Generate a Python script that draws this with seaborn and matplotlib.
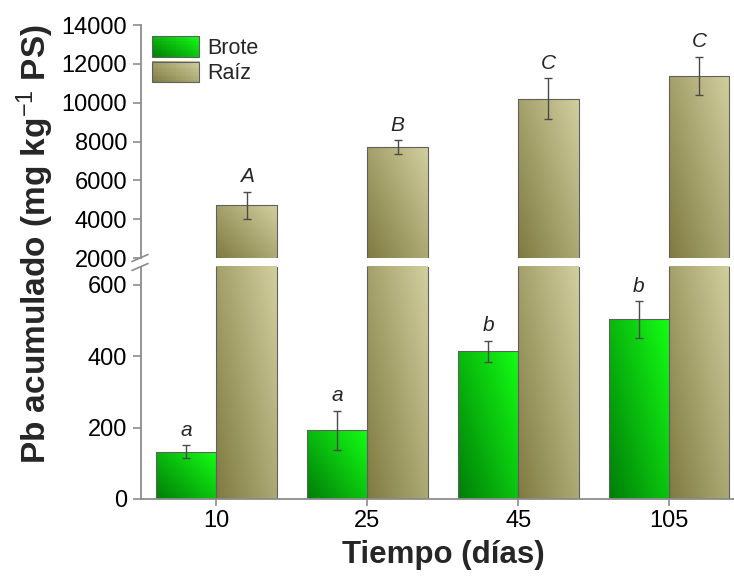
import numpy as np
import pandas as pd
import matplotlib
matplotlib.use("Agg")
import matplotlib.pyplot as plt
import seaborn as sns
from matplotlib.patches import Rectangle
from matplotlib.legend_handler import HandlerBase
from matplotlib.lines import Line2D
from matplotlib.colors import to_rgb

# ---------------- data ----------------
days = ["10", "25", "45", "105"]
series = ["Brote", "Raíz"]
brote = [133, 192, 414, 503]
brote_err = [17, 55, 29, 51]
raiz = [4714, 7720, 10200, 11380]
raiz_err = [690, 345, 1050, 980]
brote_letters = ["a", "a", "b", "b"]
raiz_letters = ["A", "B", "C", "C"]
low_ticks = [0, 200, 400, 600]
high_ticks = [2000, 4000, 6000, 8000, 10000, 12000, 14000]

# ---------------- style ----------------
sns.set_theme(style="white")
plt.rcParams['font.family'] = ['Liberation Sans', 'DejaVu Sans']
plt.rcParams['mathtext.fontset'] = 'custom'
plt.rcParams['mathtext.rm'] = 'Liberation Sans'
plt.rcParams['mathtext.it'] = 'Liberation Sans:italic'
plt.rcParams['mathtext.bf'] = 'Liberation Sans:bold'

grads = {
    "Brote": (np.array(to_rgb("#007d08")), np.array(to_rgb("#14ff14"))),
    "Raíz": (np.array(to_rgb("#7e7a40")), np.array(to_rgb("#d2cf9f"))),
}
spine_col = "#8c8c8c"
edge_col = "#5f5f5f"
err_col = "#4a4a4a"

fig = plt.figure(figsize=(7.34, 5.79), dpi=100)
ax_top = fig.add_axes([0.1921, 0.5544, 0.8079, 0.4024])
ax_bot = fig.add_axes([0.1921, 0.1382, 0.8079, 0.4007])

df = pd.DataFrame({
    "Tiempo": days * 2,
    "Tipo": ["Brote"] * len(days) + ["Raíz"] * len(days),
    "Pb": brote + raiz,
})

XLIM = (-0.5, 3.43)
for ax, ylim in ((ax_top, (2000, 14000)), (ax_bot, (0, 650))):
    sns.barplot(data=df, x="Tiempo", y="Pb", hue="Tipo", order=days,
                hue_order=series, palette=["#00c000", "#aaa770"],
                errorbar=None, width=0.8, ax=ax, legend=False,
                edgecolor=edge_col, linewidth=0.8)
    ax.set_ylim(*ylim)
    ax.set_xlim(*XLIM)


def gradient_fill(ax, patch, dark, light):
    x0, w = patch.get_x(), patch.get_width()
    y0, h = patch.get_y(), patch.get_height()
    ylo, yhi = ax.get_ylim()
    a, b = max(y0, ylo), min(y0 + h, yhi)
    if b <= a:
        return
    n = 80
    U, V = np.meshgrid(np.linspace(0, 1, n), np.linspace(0, 1, n))
    t = np.clip(0.55 * U + 0.45 * V, 0, 1)
    img = dark[None, None, :] + (light - dark)[None, None, :] * t[..., None]
    im = ax.imshow(img, extent=(x0, x0 + w, a, b), origin="lower",
                   aspect="auto", zorder=1, interpolation="bilinear")
    im.set_clip_path(patch)
    patch.set_facecolor("none")
    patch.set_zorder(2)


for ax in (ax_top, ax_bot):
    n = len(days)
    patches = list(ax.patches)
    for k, name in enumerate(series):
        dark, light = grads[name]
        for p in patches[k * n:(k + 1) * n]:
            gradient_fill(ax, p, dark, light)
    ax.set_xlim(*XLIM)

# error bars + letters
for ax in (ax_top, ax_bot):
    patches = list(ax.patches)
    n = len(days)
    for k, (vals, errs) in enumerate(((brote, brote_err), (raiz, raiz_err))):
        cx = [p.get_x() + p.get_width() / 2 for p in patches[k * n:(k + 1) * n]]
        ax.errorbar(cx, vals, yerr=errs, fmt="none", ecolor=err_col,
                    elinewidth=1.0, capsize=3.2, capthick=1.0, zorder=3)

def centers(ax, k):
    n = len(days)
    return [p.get_x() + p.get_width() / 2 for p in list(ax.patches)[k * n:(k + 1) * n]]

for x, v, e, lab in zip(centers(ax_bot, 0), brote, brote_err, brote_letters):
    ax_bot.annotate(lab, xy=(x, v + e), xytext=(0, 7), textcoords="offset points",
                    ha="center", va="baseline", fontsize=15, style="italic")
for x, v, e, lab in zip(centers(ax_top, 1), raiz, raiz_err, raiz_letters):
    ax_top.annotate(lab, xy=(x, v + e), xytext=(0, 7), textcoords="offset points",
                    ha="center", va="baseline", fontsize=15, style="italic")

# axes styling
for ax in (ax_top, ax_bot):
    for s in ("top", "right"):
        ax.spines[s].set_visible(False)
    ax.spines["left"].set_color(spine_col)
    ax.spines["left"].set_linewidth(1.3)
    ax.tick_params(axis="y", direction="out", length=6, width=1.2,
                   color=spine_col, labelsize=17, pad=4, left=True,
                   labelcolor="black")
    ax.set_xlabel("")
    ax.set_ylabel("")
    ax.set_facecolor("none")

ax_top.spines["bottom"].set_visible(False)
ax_top.set_xticks([])
ax_top.set_yticks(high_ticks)
ax_top.set_yticklabels([str(t) for t in high_ticks])

ax_bot.spines["bottom"].set_color(spine_col)
ax_bot.spines["bottom"].set_linewidth(1.3)
ax_bot.set_yticks(low_ticks)
ax_bot.set_yticklabels([str(t) for t in low_ticks])
ax_bot.set_xticks(range(len(days)))
ax_bot.set_xticklabels(days)
ax_bot.tick_params(axis="x", direction="out", length=5, width=1.2,
                   color=spine_col, labelsize=17, pad=3, bottom=True,
                   labelcolor="black")

# legend with gradient handles
class GradHandler(HandlerBase):
    def __init__(self, dark, light):
        super().__init__()
        self.dark, self.light = dark, light

    def create_artists(self, legend, orig_handle, xdescent, ydescent,
                       width, height, fontsize, trans):
        arts = []
        nx, ny = 16, 8
        x0, y0 = -xdescent, -ydescent
        dw, dh = width / nx, height / ny
        for i in range(nx):
            for j in range(ny):
                t = 0.55 * (i + 0.5) / nx + 0.45 * (j + 0.5) / ny
                c = self.dark + (self.light - self.dark) * t
                r = Rectangle((x0 + i * dw, y0 + j * dh), dw * 1.05, dh * 1.08,
                              facecolor=c, edgecolor="none", linewidth=0,
                              antialiased=False, transform=trans)
                arts.append(r)
        arts.append(Rectangle((x0, y0), width, height, fill=False,
                              edgecolor=edge_col, linewidth=0.8, transform=trans))
        return arts

h_b = Rectangle((0, 0), 1, 1)
h_r = Rectangle((0, 0), 1, 1)
leg = ax_top.legend([h_b, h_r], series,
                    handler_map={h_b: GradHandler(*grads["Brote"]),
                                 h_r: GradHandler(*grads["Raíz"])},
                    loc="upper left", bbox_to_anchor=(0.0186, 0.953),
                    frameon=False, fontsize=15.5, handlelength=2.2,
                    handleheight=1.1, labelspacing=0.14, handletextpad=0.35,
                    borderpad=0, borderaxespad=0)

# axis break marks
W, H = 734.0, 579.0
def fig_line(p1, p2):
    fig.add_artist(Line2D([p1[0] / W, p2[0] / W], [1 - p1[1] / H, 1 - p2[1] / H],
                          transform=fig.transFigure, color=spine_col, lw=1.2))
fig_line((132, 261.5), (148, 254.5))
fig_line((132, 270.5), (148, 263.5))

# axis titles
fig.text(35 / W, 1 - 244 / H, r"Pb acumulado (mg kg$^{-1}$ PS)", rotation=90,
         ha="center", va="center", fontsize=24, fontweight="bold")
fig.text(443 / W, 1 - 555 / H, "Tiempo (días)", ha="center", va="center",
         fontsize=22.5, fontweight="bold")

fig.savefig("out.png", dpi=100)
